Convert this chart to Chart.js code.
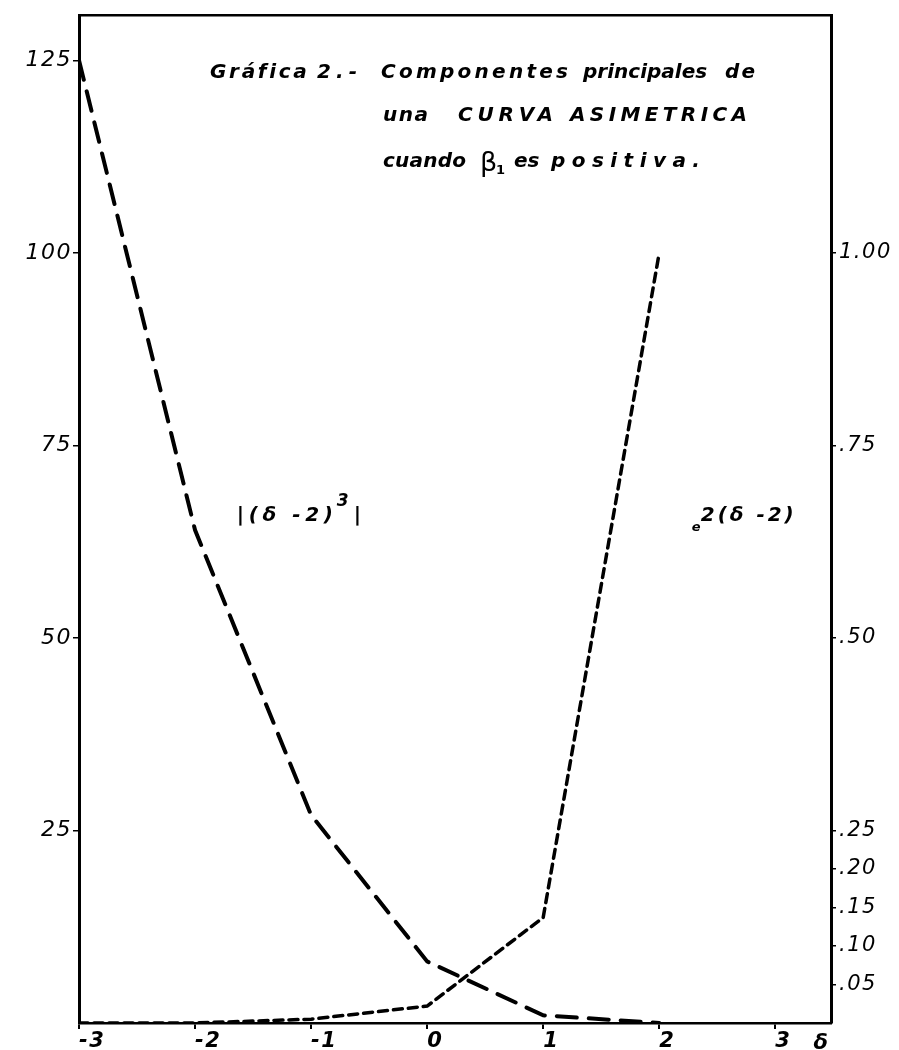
<!DOCTYPE html>
<html>
<head>
<meta charset="utf-8">
<script src="https://cdn.jsdelivr.net/npm/chart.js@4"></script>
<style>
    html, body { margin: 0; background: #fff; }
    #wrap { width: 899px; height: 1050px; position: relative; }
</style>
</head>
<body>
<div id="wrap"><canvas id="chart"></canvas></div>
<script>
// values
const deltas = [-3, -2, -1, 0, 1, 2];
const cubeAbs = [125, 64, 27, 8, 1, 0];              // |(δ-2)^3|, left scale
const expTerm = [0.000, 0.000, 0.005, 0.022, 0.137, 1.00]; // e^2(δ-2), right scale

const xTicks = [-3, -2, -1, 0, 1, 2, 3];
const leftTicks = [25, 50, 75, 100, 125];
const rightTicks = [0.05, 0.10, 0.15, 0.20, 0.25, 0.50, 0.75, 1.00];
const rightLabels = [".05", ".10", ".15", ".20", ".25", ".50", ".75", "1.00"];

const FONT = '"DejaVu Sans"';

// stretch a word between two x positions with letter spacing (never squeezes)
function fitText(ctx, text, x, y, width) {
    ctx.letterSpacing = "0px";
    const n = [...text].length;
    const w = ctx.measureText(text).width;
    const ls = n > 1 ? Math.max(0, (width - w) / (n - 1)) : 0;
    ctx.letterSpacing = ls.toFixed(2) + "px";
    ctx.fillText(text, x, y);
    ctx.letterSpacing = "0px";
}

function words(ctx, list, y) {
    list.forEach(([t, x0, x1]) => fitText(ctx, t, x0, y, x1 - x0));
}

// a little extra room between the hand-lettered tick digits
const tickSpacing = {
    id: "tickSpacing",
    beforeDraw(chart) {
        chart.ctx.letterSpacing = "1.5px";
    },
    beforeDatasetsDraw(chart) {
        chart.ctx.letterSpacing = "0px";
    }
};

const lettering = {
    id: "lettering",
    afterDraw(chart) {
        const ctx = chart.ctx;
        const xs = chart.scales.x;
        const ys = chart.scales.y;
        ctx.save();
        ctx.fillStyle = "#000";
        ctx.textAlign = "left";
        ctx.textBaseline = "alphabetic";

        // title block
        ctx.font = "bold italic 20px " + FONT;
        words(ctx, [["Gráfica", 210, 307], ["2.-", 317, 357],
                    ["Componentes", 381, 568], ["principales", 583, 707], ["de", 725, 755]], 78);
        words(ctx, [["una", 383, 428], ["CURVA", 458, 553], ["ASIMETRICA", 570, 747]], 121);
        words(ctx, [["cuando", 383, 466]], 167);
        ctx.font = "27px " + FONT;
        ctx.fillText("β", 480, 171);
        ctx.font = "bold 13px " + FONT;
        ctx.fillText("1", 496, 174);
        ctx.font = "bold italic 20px " + FONT;
        words(ctx, [["es", 514, 535], ["positiva.", 551, 700]], 167);

        // curve labels
        const bx = xs.getPixelForValue(-1.64);
        const by = ys.getPixelForValue(65.2);
        ctx.font = "bold italic 20px " + FONT;
        fitText(ctx, "|(δ -2)", bx, by, 96);
        ctx.font = "bold italic 17px " + FONT;
        ctx.fillText("3", bx + 100, by - 15);
        ctx.font = "bold italic 20px " + FONT;
        ctx.fillText("|", bx + 117, by);

        const ex = xs.getPixelForValue(2.28);
        ctx.font = "bold italic 13px " + FONT;
        ctx.fillText("e", ex, by + 10);
        ctx.font = "bold italic 20px " + FONT;
        fitText(ctx, "2(δ -2)", ex + 9, by, 93);

        // delta after the last x tick
        ctx.font = "bold italic 21px " + FONT;
        ctx.fillText("δ", xs.getPixelForValue(3.33), 1049);
        ctx.restore();
    }
};

const toPoints = (xsArr, ysArr) => xsArr.map((x, i) => ({ x: x, y: ysArr[i] }));

new Chart(document.getElementById("chart").getContext("2d"), {
    type: "line",
    data: {
        datasets: [{
            label: "|(δ-2)³|",
            data: toPoints(deltas, cubeAbs),
            yAxisID: "y",
            borderColor: "#000",
            borderWidth: 4,
            borderDash: [20, 12],
            borderCapStyle: "round",
            pointRadius: 0,
            tension: 0,
            fill: false
        }, {
            label: "e^2(δ-2)",
            data: toPoints(deltas, expTerm),
            yAxisID: "y2",
            borderColor: "#000",
            borderWidth: 3.5,
            borderDash: [9, 6],
            borderCapStyle: "round",
            pointRadius: 0,
            tension: 0,
            fill: false
        }]
    },
    options: {
        responsive: true,
        maintainAspectRatio: false,
        devicePixelRatio: 1,
        animation: false,
        layout: { padding: 0 },
        plugins: {
            legend: { display: false },
            tooltip: { enabled: false }
        },
        scales: {
            x: {
                type: "linear",
                position: "bottom",
                min: -3,
                max: 3.48,
                afterBuildTicks: s => { s.ticks = xTicks.map(v => ({ value: v })); },
                afterFit: s => { s.height = 27; },
                grid: { drawOnChartArea: false, color: "#000", lineWidth: 2, tickLength: 6 },
                border: { color: "#000", width: 2.5 },
                ticks: {
                    align: "start",
                    padding: 0,
                    color: "#000",
                    font: { family: "DejaVu Sans", size: 21, style: "italic", weight: "bold" },
                    callback: v => String(v)
                }
            },
            x2: {
                type: "linear",
                position: "top",
                min: -3,
                max: 3.48,
                afterFit: s => { s.height = 9; },
                grid: { display: false },
                border: { display: true, color: "#000", width: 2.5 },
                ticks: { display: false }
            },
            y: {
                type: "linear",
                position: "left",
                min: 0,
                max: 130.8,
                afterBuildTicks: s => { s.ticks = leftTicks.map(v => ({ value: v })); },
                afterFit: s => { s.width = 79; },
                grid: { drawOnChartArea: false, color: "#000", lineWidth: 1.5, tickLength: 6 },
                border: { color: "#000", width: 3 },
                ticks: {
                    padding: 1,
                    color: "#000",
                    font: { family: "DejaVu Sans", size: 22, style: "italic" },
                    callback: v => String(v)
                }
            },
            y2: {
                type: "linear",
                position: "right",
                min: 0,
                max: 1.308,
                afterBuildTicks: s => { s.ticks = rightTicks.map(v => ({ value: v })); },
                afterFit: s => { s.width = 68; },
                grid: { drawOnChartArea: false, color: "#000", lineWidth: 1.5, tickLength: 5 },
                border: { color: "#000", width: 3 },
                ticks: {
                    padding: 3,
                    color: "#000",
                    font: { family: "DejaVu Sans", size: 21, style: "italic" },
                    callback: v => rightLabels[rightTicks.indexOf(v)]
                }
            }
        }
    },
    plugins: [tickSpacing, lettering]
});
</script>
</body>
</html>
